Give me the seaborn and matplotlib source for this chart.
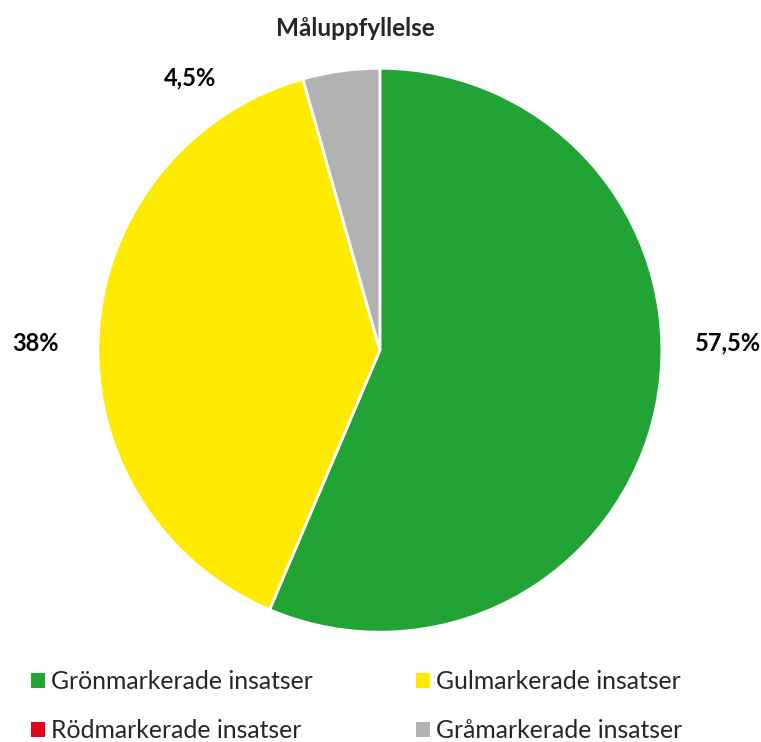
import matplotlib.pyplot as plt
import seaborn as sns
from matplotlib.patches import Patch

# data (wedge sizes as drawn; the labels are the chart's own texts)
categories = ['Grönmarkerade insatser', 'Gulmarkerade insatser',
              'Rödmarkerade insatser', 'Gråmarkerade insatser']
values = [56.4, 39.2, 0.0, 4.4]
value_labels = ['57,5%', '38%', '', '4,5%']
colors = ['#21A336', '#FFEB00', '#E2001A', '#B2B2B2']

sns.set_theme(style='white')
plt.rcParams['font.family'] = ['Lato', 'DejaVu Sans']

fig = plt.figure(figsize=(7.61, 7.42), dpi=100)
ax = fig.add_axes([0.1287, 0.148, 0.741, 0.760])

wedges, _ = ax.pie(values, colors=colors, startangle=90, counterclock=False,
                   radius=1.0, wedgeprops=dict(edgecolor='white', linewidth=2))
ax.set_xlim(-1, 1)
ax.set_ylim(-1, 1)
ax.set_aspect('auto')

# data labels (placed like the Excel chart)
label_pos = {'57,5%': (1.235, 0.025), '38%': (-1.22, 0.025), '4,5%': (-0.672, 0.965)}
for lab in value_labels:
    if lab:
        x, y = label_pos[lab]
        ax.text(x, y, lab, ha='center', va='center', fontsize=17, fontweight='bold',
                color='#000000', clip_on=False)

fig.text(0.467, 0.962, 'Måluppfyllelse', ha='center', va='center',
         fontsize=17.5, fontweight='bold')

# legend: row 1 green/yellow, row 2 red/gray
handles = [Patch(facecolor=c, edgecolor='none') for c in colors]
order = [0, 2, 1, 3]
fig.legend([handles[i] for i in order], [categories[i] for i in order],
           ncol=2, loc='upper left', bbox_to_anchor=(31 / 761, 1 - 670 / 742),
           frameon=False, fontsize=17.8, handlelength=0.55, handleheight=0.55,
           handletextpad=0.25, columnspacing=4.2, labelspacing=1.05,
           borderpad=0, borderaxespad=0)

fig.savefig('out.png', dpi=100)
